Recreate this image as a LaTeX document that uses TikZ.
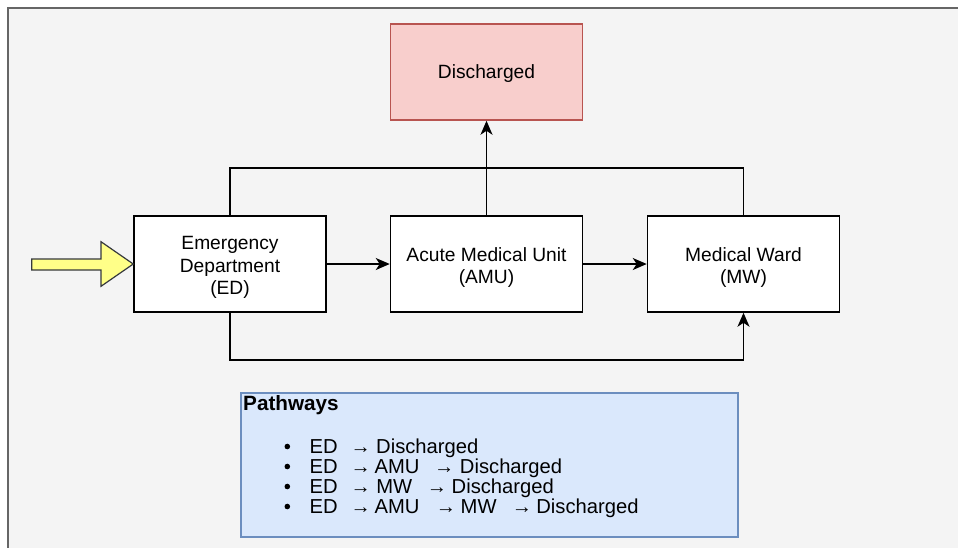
\documentclass[tikz,border=0pt]{standalone}
\usepackage{fontspec}
\setmainfont{Liberation Sans}
\usetikzlibrary{arrows.meta}
\definecolor{bgc}{HTML}{F4F4F4}
\definecolor{framec}{HTML}{666666}
\definecolor{redfill}{HTML}{F8CECC}
\definecolor{redline}{HTML}{B85450}
\definecolor{bluefill}{HTML}{DAE8FC}
\definecolor{blueline}{HTML}{6C8EBF}
\definecolor{yelfill}{HTML}{FFFF88}
\definecolor{yelline}{HTML}{36393D}
\newcommand\pwat[2]{\makebox[0pt][l]{\hspace*{\dimexpr #1pt-309pt\relax}#2}}
\tikzset{
  box/.style={draw=black, fill=white, line width=1.5pt, minimum width=192pt, minimum height=96pt,
    inner sep=0pt},
  lbl/.style={align=center, inner sep=0pt, font=\fontsize{19.2}{22.2}\selectfont},
  conn/.style={draw=black, line width=1.5pt},
  tip/.style={-{Stealth[length=14pt,width=12pt,inset=4pt]}},
  itemtext/.style={anchor=base west, inner sep=0pt, font=\fontsize{20.2}{20}\selectfont},
}
\begin{document}
\begin{tikzpicture}[x=1pt,y=-1pt]
\useasboundingbox (0,0) rectangle (958,547);
\fill[bgc] (8,8) rectangle (990,590);
\draw[framec, line width=1.5pt] (8,590) -- (8,8) -- (990,8);

\node[box, fill=redfill, draw=redline, label={[lbl,yshift=-1.9pt]center:Discharged}] (dis) at (486.5,72) {};
\node[box, label={[lbl,yshift=-3.4pt]center:Emergency\\Department\\(ED)}] (ed) at (230,264) {};
\node[box, label={[lbl,yshift=-3.2pt]center:Acute Medical Unit\\(AMU)}] (amu) at (486.5,264) {};
\node[box, label={[lbl,yshift=-3.2pt]center:Medical Ward\\(MW)}] (mw) at (743.5,264) {};

\coordinate (jt) at (486.5,168);
\coordinate (jb) at (230,360);

\draw[conn, tip] (ed) -- (amu);
\draw[conn, tip] (amu) -- (mw);
\draw[conn, tip] (amu.north) -- (dis.south);
\draw[conn] (ed.north) |- (jt);
\draw[conn] (mw.north) |- (jt);
\draw[conn, tip] (ed.south) -- (jb) -| (mw.south);

\draw[yelline, fill=yelfill, line width=1.2pt, line join=miter]
  (31.7,259) -- (101,259) -- (101,241.7) -- (ed.west) -- (101,286.3) -- (101,270) -- (31.7,270) -- cycle;

\node[draw=blueline, fill=bluefill, line width=1.5pt, minimum width=497pt, minimum height=144pt, inner sep=0pt] (pw) at (489.5,465) {};
\node[anchor=base west, inner sep=0pt, font=\fontsize{20.7}{20.7}\selectfont\bfseries] (pwt) at (243,410.5) {Pathways};
\foreach \yy in {453.3,473.3,493.3,513.3} \fill (287.3,\yy-6.8) circle (2.8pt);
\node[itemtext] (r1) at (309,453.3) {\pwat{309}{ED}\pwat{350}{→}\pwat{375.5}{Discharged}};
\node[itemtext] (r2) at (309,473.3) {\pwat{309}{ED}\pwat{350}{→}\pwat{374}{AMU}\pwat{433.5}{→}\pwat{459.3}{Discharged}};
\node[itemtext] (r3) at (309,493.3) {\pwat{309}{ED}\pwat{350}{→}\pwat{375.7}{MW}\pwat{426.2}{→}\pwat{451}{Discharged}};
\node[itemtext] (r4) at (309,513.3) {\pwat{309}{ED}\pwat{350}{→}\pwat{374}{AMU}\pwat{435.2}{→}\pwat{460}{MW}\pwat{511.2}{→}\pwat{535.7}{Discharged}};
\end{tikzpicture}
\end{document}
